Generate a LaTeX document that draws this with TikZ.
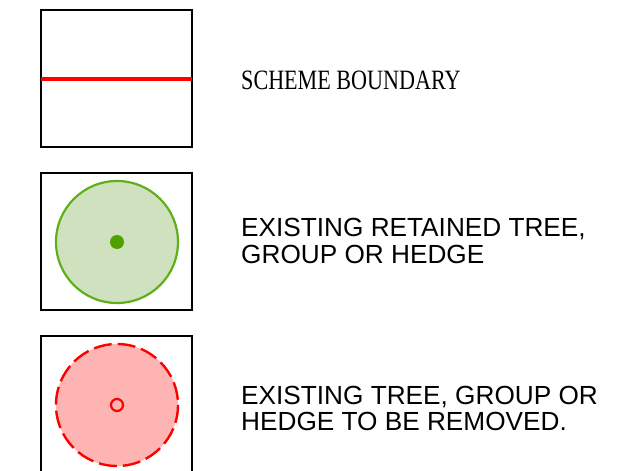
\documentclass[tikz,border=0pt]{standalone}
\usepackage{fontspec}
\setmainfont{Liberation Sans}
\newfontfamily\serifcond{Liberation Serif}
\definecolor{treefill}{RGB}{208,225,192}
\definecolor{treeline}{RGB}{95,175,25}
\definecolor{treedot}{RGB}{80,160,0}
\definecolor{remfill}{RGB}{255,180,180}
\definecolor{remline}{RGB}{255,0,0}
\begin{document}
\begin{tikzpicture}[x=1pt,y=-1pt,
  keybox/.style={draw=black,line width=1.9pt},
  label/.style={anchor=base west,inner sep=0pt,font=\fontsize{26.2}{28}\selectfont}]
\useasboundingbox (0,0) rectangle (635,471);
\clip (0,0) rectangle (635,471);
% box 1
\draw[keybox] (41,10) rectangle (192,147);
\draw[remline,line width=3.6pt] (41,79) -- (192,79);
\node[anchor=base west,inner sep=0pt] (t1) at (241,89)
  {\scalebox{0.79}[1]{\serifcond\fontsize{28}{30}\selectfont SCHEME BOUNDARY}};
% box 2
\draw[keybox] (41,173) rectangle (192,310);
\draw[draw=treeline,fill=treefill,line width=2.2pt] (117,242) circle (61);
\fill[treedot] (117,242) circle (7);
\node[label] (t2a) at (241,236) {EXISTING RETAINED TREE,};
\node[label] (t2b) at (241,263) {GROUP OR HEDGE};
% box 3
\draw[keybox] (41,336) rectangle (192,490);
\draw[draw=remline,fill=remfill,line width=2.4pt,dash pattern=on 18pt off 6pt] (117,405) circle (61);
\draw[remline,line width=2.2pt] (117,405) circle (6);
\node[label] (t3a) at (241,404) {EXISTING TREE, GROUP OR};
\node[label] (t3b) at (241,430) {HEDGE TO BE REMOVED.};
\end{tikzpicture}
\end{document}
